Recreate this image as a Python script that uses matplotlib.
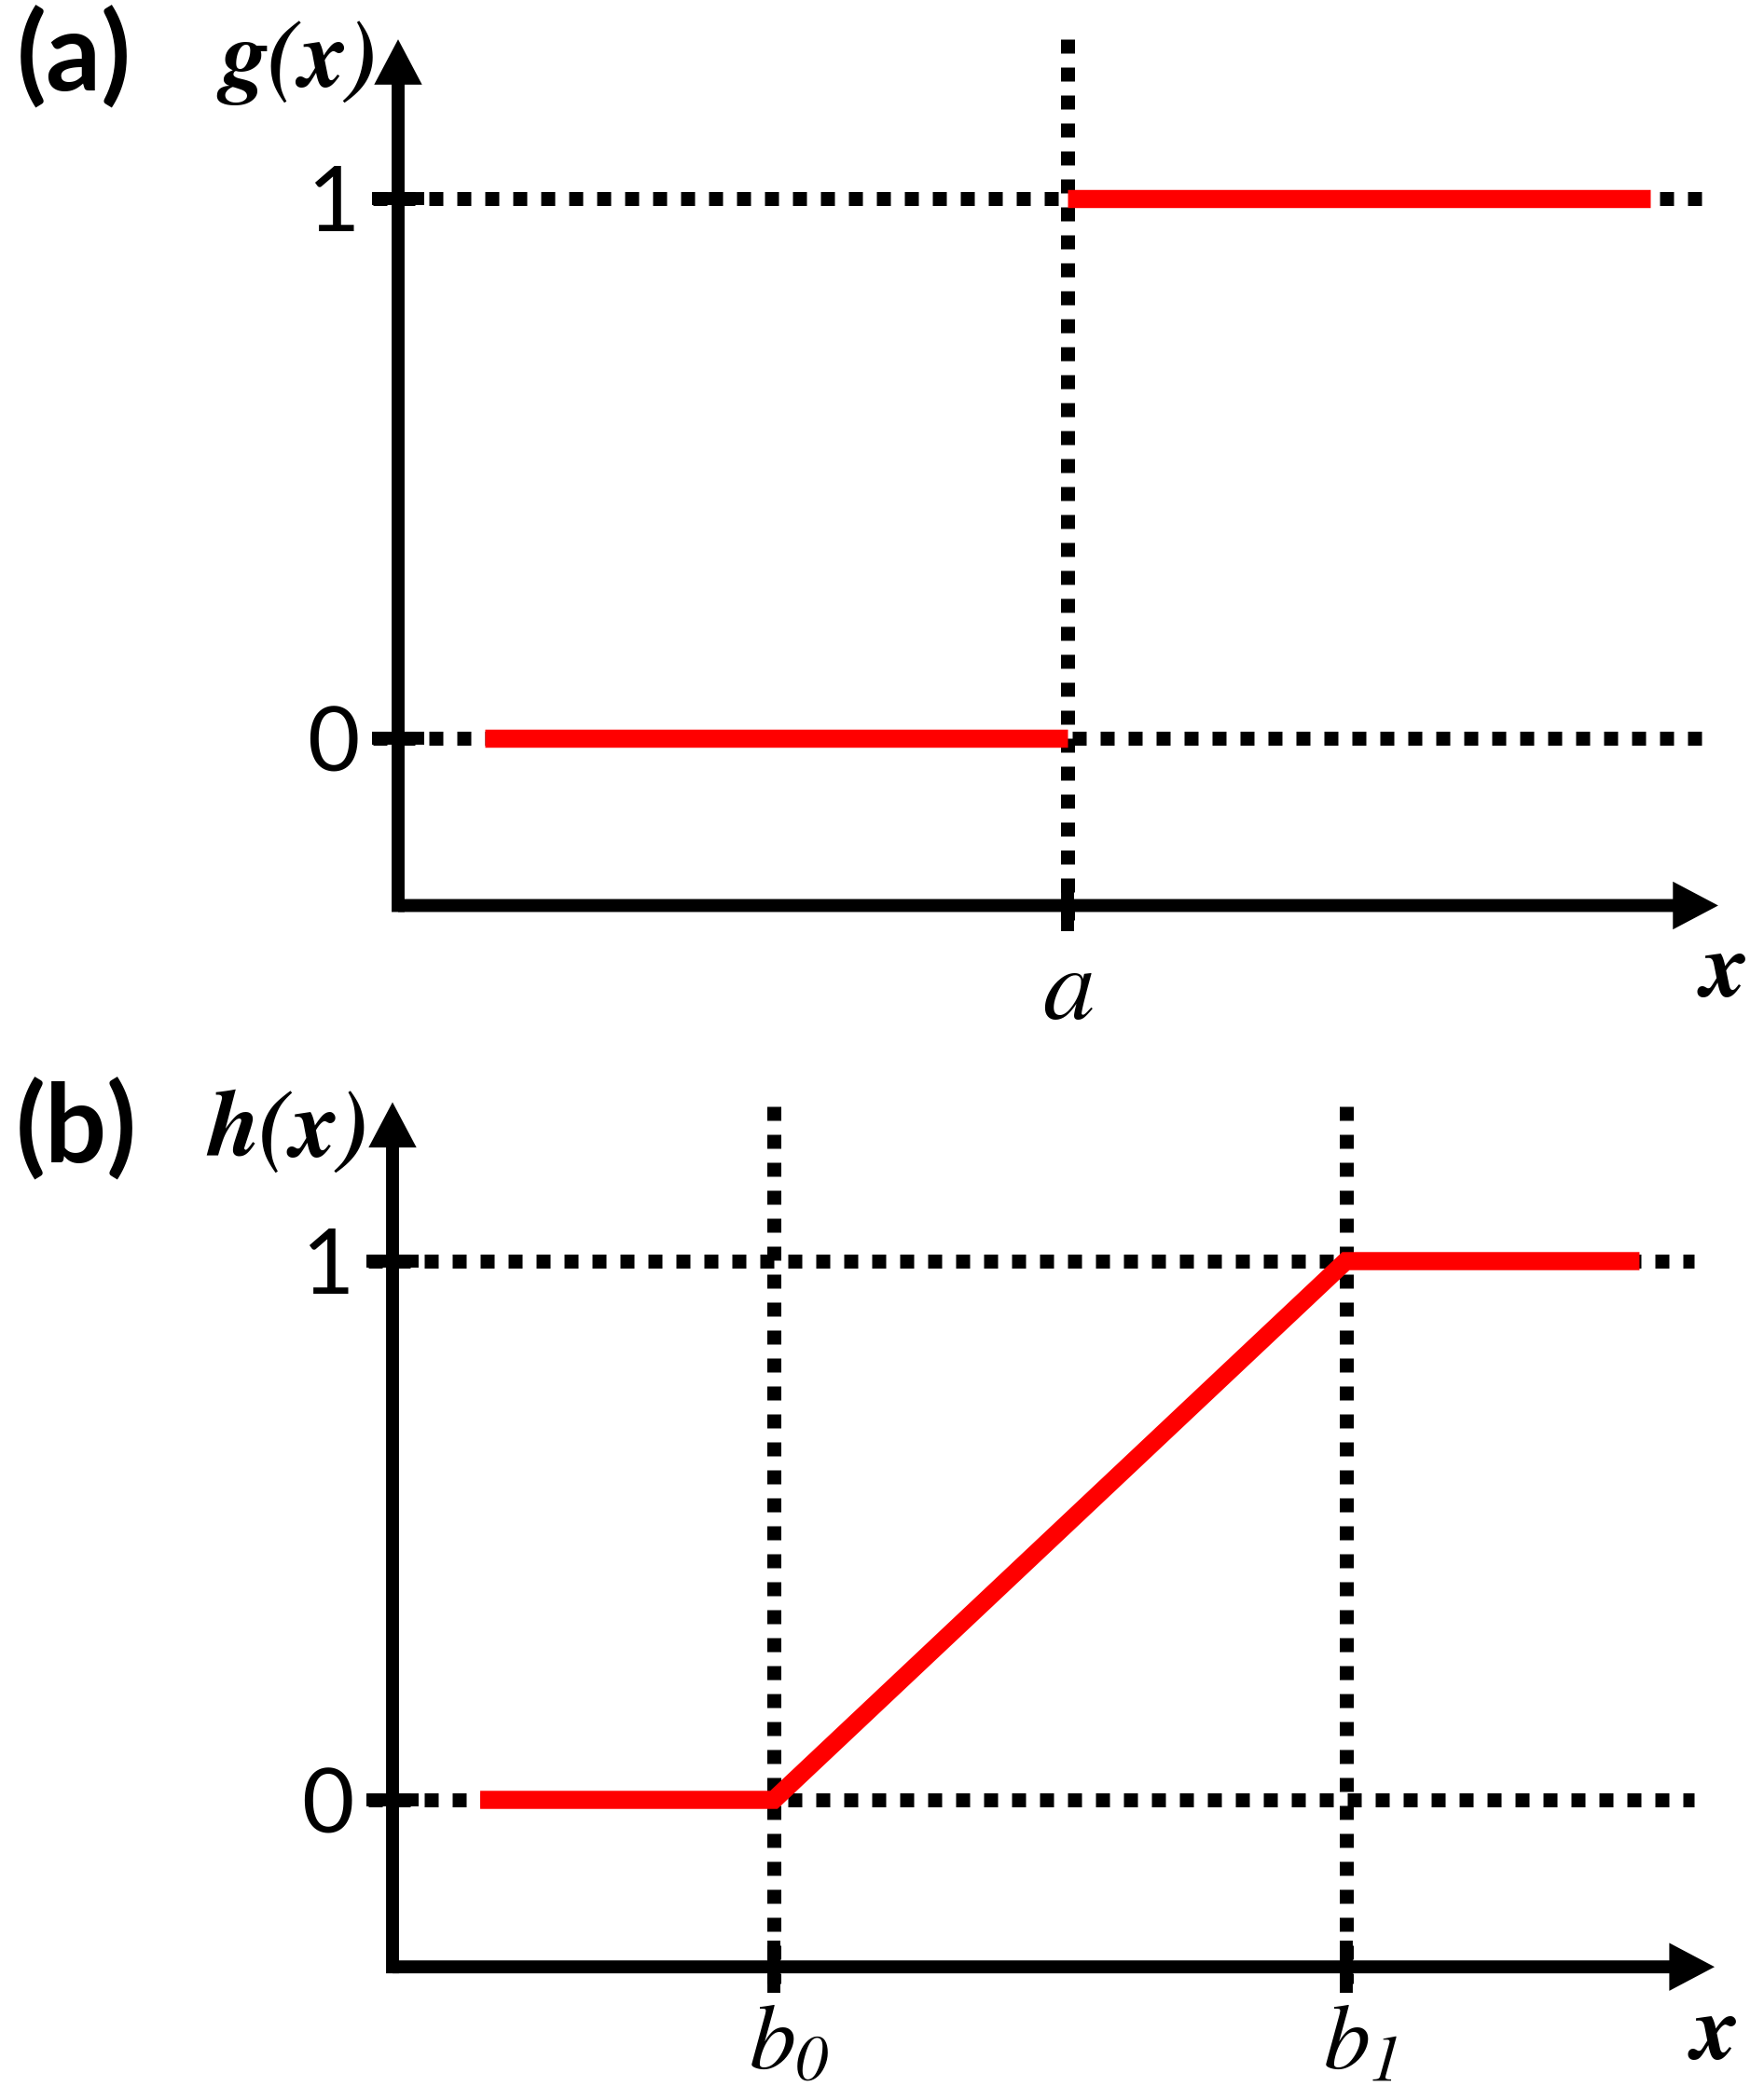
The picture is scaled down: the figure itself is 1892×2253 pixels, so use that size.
import matplotlib.pyplot as plt
from matplotlib.transforms import ScaledTranslation

# (a) step function g(x)
a = 2.0
g_low_x = [0.26, a]
g_low_y = [0, 0]
g_high_x = [a, 3.74]
g_high_y = [1, 1]

# (b) ramp function h(x)
b0 = 1.0
b1 = 2.5
h_x = [0.23, b0, b1, 3.27]
h_y = [0, 0, 1, 1]

levels = [0, 1]
level_labels = ['0', '1']

# italic serif for the math labels, digits included
plt.rcParams['mathtext.fontset'] = 'custom'
plt.rcParams['mathtext.it'] = 'STIXGeneral:italic'
plt.rcParams['mathtext.rm'] = 'STIXGeneral:italic'

W, H = 1892, 2253
fig = plt.figure(figsize=(W / 100, H / 100), dpi=100)

Y_FLOOR = -0.31
Y_TIP = 1.295
DOT = dict(color='black', lw=10.8, ls=(0, (1, 1)), dash_capstyle='butt', zorder=1)
RED = dict(color='#ff0000', lw=14, solid_capstyle='butt', solid_joinstyle='miter', zorder=3)
ARROW = dict(width=10, headwidth=37, headlength=35, shrink=0,
             facecolor='black', edgecolor='none')


def make_axes(top, bottom, x0_px, ux, y0_px, uy):
    # axes spanning a horizontal band of the figure, data units set from pixels
    ax = fig.add_axes([0, 1 - bottom / H, 1, (bottom - top) / H])
    ax.set_xlim(-x0_px / ux, (W - x0_px) / ux)
    ax.set_ylim((y0_px - bottom) / uy, (y0_px - top) / uy)
    return ax


def style(ax, x_marks, x_labels, x_tip, dot_start, dot_end, y_tip, xpad, xsize):
    for s in ax.spines.values():
        s.set_visible(False)
    ax.spines['left'].set_position(('data', 0))
    ax.spines['bottom'].set_position(('data', Y_FLOOR))
    ax.set_yticks(levels, level_labels)
    ax.set_xticks(x_marks, x_labels)
    ax.tick_params(direction='inout', length=40, width=10, color='black')
    ax.tick_params(axis='y', labelsize=70, pad=10, labelfontfamily='Lato')
    ax.tick_params(axis='x', labelsize=xsize, pad=xpad)

    for lv in levels:
        ax.plot([dot_start, dot_end], [lv, lv], **DOT)
    for xm in x_marks:
        ax.plot([xm, xm], [y_tip, Y_FLOOR - 0.03], **DOT)

    ax.annotate('', xy=(x_tip, Y_FLOOR), xytext=(0, Y_FLOOR), arrowprops=ARROW)
    ax.annotate('', xy=(0, Y_TIP), xytext=(0, Y_FLOOR - 0.012), arrowprops=ARROW)


# panel (a)
ax1 = make_axes(0, 1126, 427, 359, 792, 579)
style(ax1, [a], ['$a$'], 3.944, -0.075, 3.894, Y_TIP, 7, 80)
ax1.plot(g_low_x, g_low_y, **RED)
ax1.plot(g_high_x, g_high_y, **RED)

# panel (b)
ax2 = make_axes(1126, 2253, 421, 409, 1931, 578)
style(ax2, [b0, b1], ['$b_0$', '$b_1$'], 3.467, -0.064, 3.413, 1.287, 4, 72)
ax2.plot(h_x, h_y, **RED)
# the b labels sit a little right of their ticks
nudge = ScaledTranslation(0.16, 0, fig.dpi_scale_trans)
for lbl in ax2.get_xticklabels():
    lbl.set_transform(lbl.get_transform() + nudge)

lab = dict(ha='center', va='center')
it = dict(family='STIXGeneral', style='italic', weight='bold', **lab)
fig.text(79 / W, 1 - 62 / H, '(a)', fontsize=84, family='Lato', weight='bold', **lab)
fig.text(322 / W, 1 - 67 / H, 'g(x)', fontsize=73, **it)
fig.text(1849 / W, 1 - 1044 / H, 'x', fontsize=72, **it)
fig.text(82 / W, 1 - 1212 / H, '(b)', fontsize=84, family='Lato', weight='bold', **lab)
fig.text(310 / W, 1 - 1215 / H, 'h(x)', fontsize=73, **it)
fig.text(1839 / W, 1 - 2184 / H, 'x', fontsize=72, **it)

fig.savefig('out.png', dpi=100)
